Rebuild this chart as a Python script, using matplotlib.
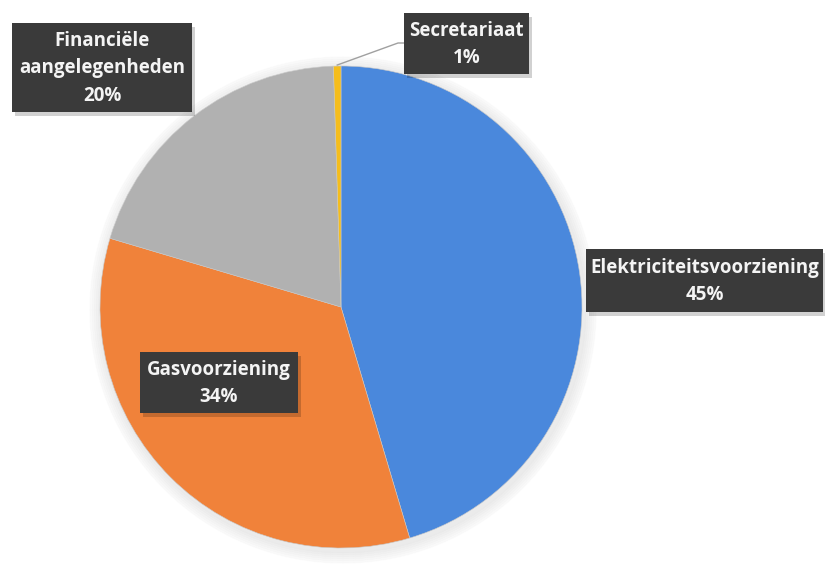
import matplotlib
matplotlib.use('Agg')
import numpy as np
import matplotlib.pyplot as plt
from matplotlib.patches import Rectangle

# slice data, clockwise from 12 o'clock
labels = ['Elektriciteitsvoorziening', 'Gasvoorziening', 'Financiële\naangelegenheden', 'Secretariaat']
values = [45.4, 34.2, 19.9, 0.5]
shown = ['45%', '34%', '20%', '1%']
colors = ['#4a88dc', '#f0823a', '#b1b1b1', '#f5bd1c']

W, H = 825, 583
fig = plt.figure(figsize=(W / 100, H / 100), dpi=100)
fig.patch.set_facecolor('white')
ax = fig.add_axes([0, 0, 1, 1])

cx, cy, r = 341, H - 307, 241

# soft shadow around the pie
for k in range(6):
    ax.add_patch(plt.Circle((cx + 2, cy - 3), r + 2 + k * 2, color='#9a9a9a', alpha=0.03, zorder=0))

wedges, _ = ax.pie(values, colors=colors, startangle=90, counterclock=False,
                   center=(cx, cy), radius=r, frame=True,
                   wedgeprops=dict(linewidth=0.4, edgecolor='#c8c8c8'))
ax.set_xlim(0, W)
ax.set_ylim(0, H)
ax.set_aspect('equal')
ax.axis('off')

# label boxes: centre x, centre y (from top), width, height
boxes = [(704.5, 280.5, 237, 63), (219, 382.5, 158, 61),
         (102, 67.5, 180, 89), (466.5, 43.5, 125, 61)]

for (bx, by, bw, bh), lab, pct in zip(boxes, labels, shown):
    y = H - by
    ax.add_patch(Rectangle((bx - bw / 2 + 3, y - bh / 2 - 4), bw, bh, color='#000000', alpha=0.18, zorder=4, lw=0))
    ax.add_patch(Rectangle((bx - bw / 2, y - bh / 2), bw, bh, facecolor='#3a3a3a', edgecolor='none', zorder=5))
    ax.text(bx, y - 1, lab + '\n' + pct, ha='center', va='center', color='#f4f4f4',
            fontsize=13.5, fontweight='bold', family='Open Sans', linespacing=1.5, zorder=6)

# leader line for the thin slice
w = wedges[3]
ang = np.deg2rad((w.theta1 + w.theta2) / 2)
px, py = cx + r * np.cos(ang), cy + r * np.sin(ang)
ax.plot([px, 398, 404], [py + 1, H - 43, H - 43], color='#a0a0a0', lw=1, zorder=3)

fig.savefig('out.png', dpi=100)
